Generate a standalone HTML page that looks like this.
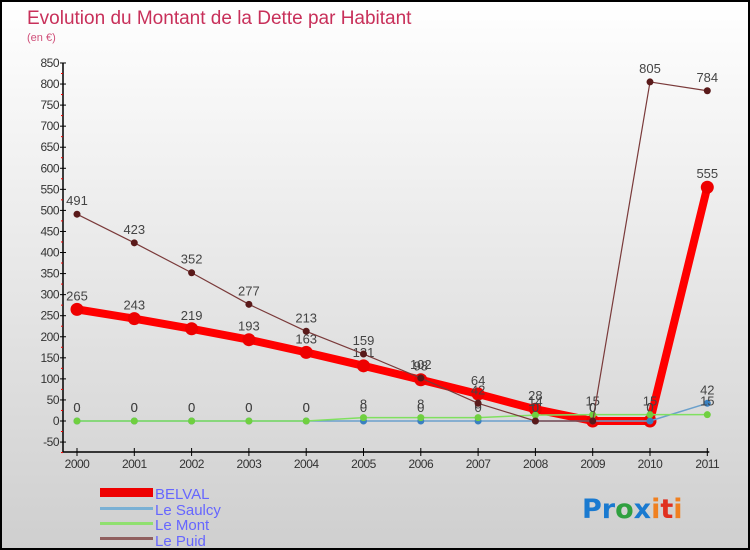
<!DOCTYPE html>
<html><head><meta charset="utf-8"><style>
body{margin:0}
#c{width:750px;height:550px;position:relative;box-sizing:border-box;border:2px solid #000;background:linear-gradient(#ffffff,#cfcfcf);font-family:"Liberation Sans",sans-serif;overflow:hidden}
</style></head><body>
<div id="c">
<svg id="s" width="746" height="546" style="position:absolute;left:0;top:0">
<text x="25" y="22" font-size="19" fill="#c8305a" font-family="Liberation Sans">Evolution du Montant de la Dette par Habitant</text>
<text x="25" y="39" font-size="11" fill="#d0507a">(en €)</text>
<g id="axes"></g><g id="series"></g>
<g>
<rect x="98" y="486" width="53" height="9" fill="#ee0000"/>
<text x="153" y="497" font-size="15" fill="#6666ff">BELVAL</text>
<rect x="98" y="505" width="53" height="3" fill="#7ab0d4"/>
<text x="153" y="513" font-size="15" fill="#6666ff">Le Saulcy</text>
<rect x="98" y="520" width="53" height="3" fill="#90e070"/>
<text x="153" y="528" font-size="15" fill="#6666ff">Le Mont</text>
<rect x="98" y="535" width="53" height="3" fill="#906060"/>
<text x="153" y="544" font-size="15" fill="#6666ff">Le Puid</text>
</g>
<text x="580" y="516" font-size="27" font-family="DejaVu Sans" font-weight="bold"><tspan fill="#1a7ad0">Pr</tspan><tspan fill="#30a040">o</tspan><tspan fill="#1a7ad0">x</tspan><tspan fill="#f08020">i</tspan><tspan fill="#e03020">t</tspan><tspan fill="#f08020">i</tspan></text>
</svg>
</div>
<script>
const years=["2000","2001","2002","2003","2004","2005","2006","2007","2008","2009","2010","2011"];
const yTicks=[850,800,750,700,650,600,550,500,450,400,350,300,250,200,150,100,50,0,-50];
const belval=[265,243,219,193,163,131,98,64,28,0,0,555];
const saulcy=[0,0,0,0,0,0,0,0,0,0,0,42];
const mont=[0,0,0,0,0,8,8,8,14,15,15,15];
const puid=[491,423,352,277,213,159,102,42,0,0,805,784];
const NS="http://www.w3.org/2000/svg";
function X(i){return 75+i*57.3;}
function Y(v){return 419-v*0.4212;}
function mk(t,a,p){const e=document.createElementNS(NS,t);for(const k in a)e.setAttribute(k,a[k]);p.appendChild(e);return e;}
const ax=document.getElementById('axes'),se=document.getElementById('series');
let l=mk('line',{x1:61,y1:Y(850),x2:61,y2:450,stroke:'#000','stroke-width':1.5},ax);


l=mk('line',{x1:61,y1:450,x2:X(11)+2,y2:450,stroke:'#000','stroke-width':1.5},ax);


yTicks.forEach(v=>{
 mk('line',{x1:58,y1:Y(v),x2:64,y2:Y(v),stroke:'#000'},ax);
 mk('line',{x1:59,y1:Y(v)+10.5,x2:61,y2:Y(v)+10.5,stroke:'#e00'},ax);
 const t=mk('text',{x:57,y:Y(v)+4,'font-size':12,fill:'#333','text-anchor':'end','letter-spacing':'-0.5'},ax);t.textContent=v;
 
 
});
years.forEach((y,i)=>{
 mk('line',{x1:X(i),y1:446,x2:X(i),y2:454,stroke:'#000'},ax);
 const t=mk('text',{x:X(i),y:466,'font-size':12,fill:'#333','text-anchor':'middle','letter-spacing':'-0.5'},ax);t.textContent=y;
 
 
});
function draw(vals,name,color,w,r,dot){
 const g=mk('g',{},se);
 
 
 const p=mk('polyline',{points:vals.map((v,i)=>X(i)+','+Y(v)).join(' '),fill:'none',stroke:color,'stroke-width':w,'stroke-linejoin':'round'},g);
 
 
 vals.forEach((v,i)=>{
  const c=mk('circle',{cx:X(i),cy:Y(v),r:r,fill:dot},g);
  
  
  const t=mk('text',{x:X(i),y:Y(v)-9,'font-size':13,fill:'#444','text-anchor':'middle'},g);t.textContent=v;
  
  
 });
}
draw(belval,'belval','#ff0000',8,6.5,'#ee0000');
draw(saulcy,'saulcy','#6aa0cc',1.5,3.5,'#3a80c0');
draw(mont,'mont','#80e060',1.5,3.5,'#70d040');
draw(puid,'puid','#7a3a3a',1.2,3.5,'#5a1a1a');
</script>
</body></html>
